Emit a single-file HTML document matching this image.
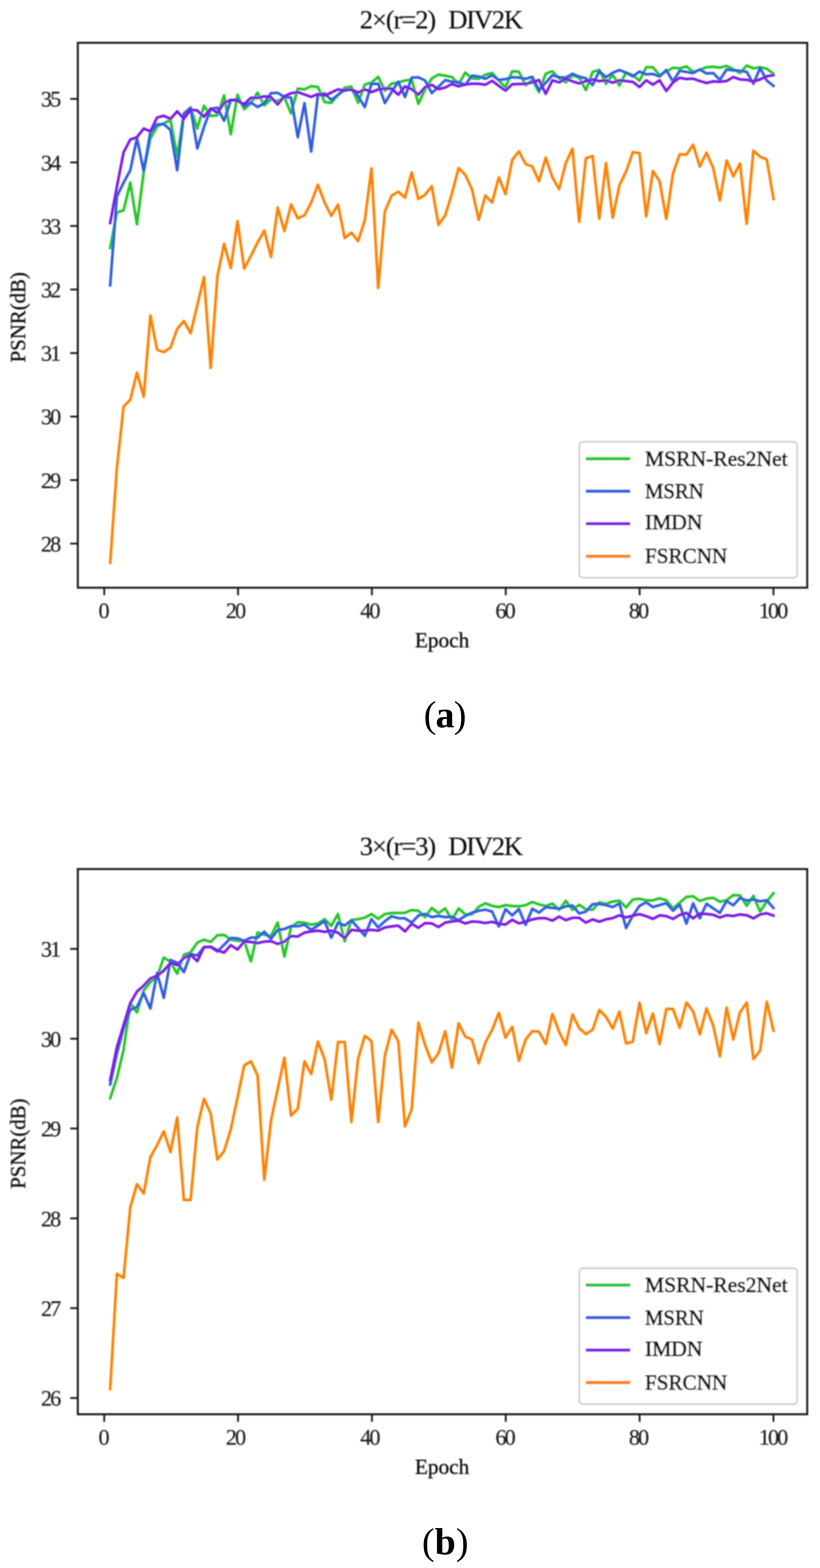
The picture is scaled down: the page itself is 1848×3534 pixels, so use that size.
<!DOCTYPE html>
<html lang="en">
<head>
<meta charset="utf-8">
<title>PSNR curves on DIV2K</title>
<style>
html,body{margin:0;padding:0;background:#fff;}
body{width:1848px;height:3534px;overflow:hidden;}
svg{display:block;}
.t{font-family:"Liberation Serif","DejaVu Serif",serif;fill:#111;stroke:#111;stroke-width:0.7px;}
.tl{font-size:50px;letter-spacing:-4.2px;stroke-width:0.4px;fill:#1c1c1c;stroke:#1c1c1c;}
.tt{stroke-width:0.3px;}
.lt{stroke-width:1.5px;}
.cap{font-family:"Liberation Serif","DejaVu Serif",serif;fill:#000;}
.ln{fill:none;stroke-width:6.0;stroke-linejoin:round;stroke-linecap:square;}
.ll{stroke-width:7.3px;}
.fr{fill:none;stroke:#0a0a0a;stroke-width:4.2;}
.tk{stroke:#0a0a0a;stroke-width:3.9;}
.lg{fill:#fff;fill-opacity:.8;stroke:#cdcdcd;stroke-width:3.8;}
</style>
</head>
<body>
<svg width="1848" height="3534" viewBox="0 0 1848 3534">
<defs><filter id="soft" x="0" y="0" width="1848" height="3534" filterUnits="userSpaceOnUse"><feGaussianBlur stdDeviation="1.7"/></filter></defs>
<rect width="1848" height="3534" fill="#fff"/>
<g filter="url(#soft)">
<g>
<polyline class="ln" stroke="#22c522" points="248.3,559 263.4,478.8 278.5,474.1 293.6,411.6 308.7,505.6 323.8,388.4 338.9,312.3 354,285.1 369.1,278.1 384.2,270.4 399.3,352.6 414.4,255.6 429.5,241.9 444.6,290 459.7,238.3 474.8,261.5 489.9,259.7 505,215.1 520.1,302.4 535.2,213.4 550.3,246.3 565.4,232.6 580.5,208.9 595.6,237.4 610.7,224.1 625.8,227.6 640.9,219.6 656,255.7 671.1,199.6 686.2,201.4 701.3,194.3 716.4,196 731.5,229.9 746.6,231.7 761.7,213.9 776.8,197.8 791.9,195.1 807,231.7 822.1,190.7 837.2,186.2 852.3,173.1 867.4,204.5 882.5,188.5 897.6,185.8 912.7,181.4 927.8,179.6 942.9,233.9 958,201.9 973.1,176.9 988.2,168 1003.3,170.7 1018.4,173.4 1033.5,190.3 1048.6,163.6 1063.7,176.4 1078.8,177.7 1093.9,168.7 1109,164.3 1124.1,181.2 1139.2,197.2 1154.3,160.7 1169.4,161.6 1184.5,191.9 1199.6,180.3 1214.7,207.9 1229.8,166 1244.9,160.7 1260,176.6 1275.1,185.6 1290.2,169.6 1305.3,175.1 1320.4,203.2 1335.5,162.2 1350.6,157.6 1365.7,189 1380.8,168.5 1395.9,192.6 1411,163.2 1426.1,169.4 1441.2,181.9 1456.3,151.6 1471.4,151.6 1486.5,169.4 1501.6,161.4 1516.7,152.8 1531.8,154.1 1546.9,149.6 1562,162.1 1577.1,157.6 1592.2,151.4 1607.3,150.5 1622.4,152.3 1637.5,148.7 1652.6,155.8 1667.7,164.7 1682.8,147.8 1697.9,154.1 1713,151.4 1728.1,154.9 1743.2,166.6"/>
<polyline class="ln" stroke="#2d5be0" points="248.3,643 263.4,442.7 278.5,411.6 293.6,383.7 308.7,311.5 323.8,385.3 338.9,298.3 354,280.4 369.1,279.6 384.2,292.9 399.3,383.7 414.4,256.4 429.5,243.6 444.6,334.5 459.7,286.4 474.8,245.4 489.9,242.8 505,272.2 520.1,225.8 535.2,224.1 550.3,239.2 565.4,231.2 580.5,241 595.6,233 610.7,209.9 625.8,209.2 640.9,218.5 656,220.1 671.1,309.2 686.2,232.6 701.3,341.6 716.4,214.7 731.5,210.3 746.6,225.4 761.7,213.9 776.8,202.3 791.9,202.3 807,216.5 822.1,241.5 837.2,188.9 852.3,188.7 867.4,232.2 882.5,207.2 897.6,184.1 912.7,218.8 927.8,175.1 942.9,174.3 958,181.4 973.1,209.9 988.2,195.6 1003.3,180.5 1018.4,184.1 1033.5,184.9 1048.6,191.2 1063.7,170.6 1078.8,172.4 1093.9,177.6 1109,169.6 1124.1,180.3 1139.2,178.5 1154.3,174.1 1169.4,174.9 1184.5,177.6 1199.6,173.2 1214.7,203.5 1229.8,186.5 1244.9,169.6 1260,174.1 1275.1,174.9 1290.2,166.3 1305.3,173 1320.4,176.5 1335.5,191.7 1350.6,160.5 1365.7,173.9 1380.8,164.1 1395.9,157.8 1411,164.1 1426.1,172.1 1441.2,161.4 1456.3,167.6 1471.4,166.7 1486.5,172.1 1501.6,157.8 1516.7,183.7 1531.8,159.4 1546.9,162.1 1562,164.7 1577.1,156.7 1592.2,165.6 1607.3,164.7 1622.4,179.9 1637.5,156.7 1652.6,158.5 1667.7,159.4 1682.8,162.1 1697.9,188.8 1713,153.2 1728.1,181.7 1743.2,193.6"/>
<polyline class="ln" stroke="#7d12e4" points="248.3,502.5 263.4,421 278.5,343.3 293.6,314.6 308.7,309.2 323.8,289.8 338.9,296 354,264.9 369.1,261 384.2,268 399.3,250.9 414.4,267.8 429.5,247.2 444.6,249 459.7,263.2 474.8,244.5 489.9,254.3 505,232.1 520.1,224.9 535.2,227.6 550.3,234.7 565.4,220.5 580.5,220.5 595.6,217.3 610.7,218.7 625.8,235.4 640.9,216.7 656,210.3 671.1,207.6 686.2,213 701.3,218.3 716.4,212.1 731.5,215.6 746.6,208.5 761.7,201.4 776.8,204.1 791.9,201.4 807,208.5 822.1,201.4 837.2,207.6 852.3,201.6 867.4,199.2 882.5,200.1 897.6,213.5 912.7,194.7 927.8,201 942.9,213.5 958,196.5 973.1,191.2 988.2,201 1003.3,197.4 1018.4,189.4 1033.5,194.7 1048.6,190.3 1063.7,188.8 1078.8,188.8 1093.9,191 1109,182.1 1124.1,193.3 1139.2,204.3 1154.3,190.1 1169.4,189.2 1184.5,189.2 1199.6,185.6 1214.7,180.3 1229.8,211.5 1244.9,181.2 1260,185.6 1275.1,177.6 1290.2,183.3 1305.3,188.1 1320.4,182.8 1335.5,179.2 1350.6,182.8 1365.7,181 1380.8,186.3 1395.9,181 1411,182.8 1426.1,184.5 1441.2,196.1 1456.3,181 1471.4,190.8 1486.5,181 1501.6,205 1516.7,185.8 1531.8,175.4 1546.9,178.1 1562,177.2 1577.1,182.6 1592.2,187 1607.3,183.5 1622.4,184.3 1637.5,182.6 1652.6,173.7 1667.7,179 1682.8,179.9 1697.9,183.5 1713,179 1728.1,171.9 1743.2,169.2"/>
<polyline class="ln" stroke="#ff8000" points="248.3,1268.6 263.4,1054.6 278.5,916.5 293.6,900.9 308.7,839.7 323.8,894.2 338.9,711.2 354,788.2 369.1,793.8 384.2,783.2 399.3,741.3 414.4,723.5 429.5,751.3 444.6,687.8 459.7,624.3 474.8,829.4 489.9,623.2 505,549.7 520.1,604.3 535.2,498.5 550.3,605.4 565.4,576.9 580.5,546.4 595.6,519.7 610.7,579.4 625.8,467.6 640.9,521 656,460.9 671.1,492.1 686.2,485.4 701.3,456.5 716.4,416.4 731.5,456.5 746.6,486.5 761.7,460.9 776.8,536.6 791.9,524.4 807,543.3 822.1,496.5 837.2,379.6 852.3,649.1 867.4,476.5 882.5,440.9 897.6,432 912.7,445.4 927.8,388.6 942.9,448.7 958,438.7 973.1,419.8 988.2,506.6 1003.3,485.5 1018.4,436.5 1033.5,378.6 1048.6,394.1 1063.7,426.4 1078.8,495.5 1093.9,440.9 1109,456.5 1124.1,399.7 1139.2,437.6 1154.3,360.7 1169.4,341.2 1184.5,369.7 1199.6,375.2 1214.7,408.6 1229.8,355.2 1244.9,399.7 1260,426.5 1275.1,367.4 1290.2,335.1 1305.3,500 1320.4,356.3 1335.5,351.8 1350.6,493.3 1365.7,367.4 1380.8,491 1395.9,417.5 1411,386.4 1426.1,342.9 1441.2,345.2 1456.3,487.7 1471.4,385.3 1486.5,408.7 1501.6,493.3 1516.7,390.8 1531.8,347.4 1546.9,348.5 1562,326.3 1577.1,375.3 1592.2,344.1 1607.3,378.6 1622.4,452.1 1637.5,361.9 1652.6,397.5 1667.7,368.6 1682.8,504.4 1697.9,339.6 1713,353 1728.1,359.7 1743.2,448.6"/>
<rect class="fr" x="175.3" y="96.5" width="1643.9" height="1228.1"/>
<line class="tk" x1="234.9" y1="1324.6" x2="234.9" y2="1341.6"/>
<text class="t tl" text-anchor="middle" x="232.4" y="1393.2">0</text>
<line class="tk" x1="536.5" y1="1324.6" x2="536.5" y2="1341.6"/>
<text class="t tl" text-anchor="middle" x="529.8" y="1393.2">20</text>
<line class="tk" x1="838.2" y1="1324.6" x2="838.2" y2="1341.6"/>
<text class="t tl" text-anchor="middle" x="832.6" y="1393.2">40</text>
<line class="tk" x1="1139.8" y1="1324.6" x2="1139.8" y2="1341.6"/>
<text class="t tl" text-anchor="middle" x="1137.2" y="1393.2">60</text>
<line class="tk" x1="1441.5" y1="1324.6" x2="1441.5" y2="1341.6"/>
<text class="t tl" text-anchor="middle" x="1438" y="1393.2">80</text>
<line class="tk" x1="1743.1" y1="1324.6" x2="1743.1" y2="1341.6"/>
<text class="t tl" text-anchor="middle" x="1741.2" y="1393.2">100</text>
<line class="tk" x1="158.3" y1="222.9" x2="175.3" y2="222.9"/>
<text class="t tl" text-anchor="end" x="133.8" y="240.4">35</text>
<line class="tk" x1="158.3" y1="366.1" x2="175.3" y2="366.1"/>
<text class="t tl" text-anchor="end" x="133.8" y="383.6">34</text>
<line class="tk" x1="158.3" y1="509.3" x2="175.3" y2="509.3"/>
<text class="t tl" text-anchor="end" x="133.8" y="526.8">33</text>
<line class="tk" x1="158.3" y1="652.5" x2="175.3" y2="652.5"/>
<text class="t tl" text-anchor="end" x="133.8" y="670">32</text>
<line class="tk" x1="158.3" y1="795.7" x2="175.3" y2="795.7"/>
<text class="t tl" text-anchor="end" x="133.8" y="813.2">31</text>
<line class="tk" x1="158.3" y1="938.9" x2="175.3" y2="938.9"/>
<text class="t tl" text-anchor="end" x="133.8" y="956.4">30</text>
<line class="tk" x1="158.3" y1="1082" x2="175.3" y2="1082"/>
<text class="t tl" text-anchor="end" x="133.8" y="1099.5">29</text>
<line class="tk" x1="158.3" y1="1225.2" x2="175.3" y2="1225.2"/>
<text class="t tl" text-anchor="end" x="133.8" y="1242.7">28</text>
<text class="t tt" font-size="60" y="64.3" xml:space="preserve"><tspan x="810.8" textLength="172.3" lengthAdjust="spacing">2×(r=2)</tspan><tspan>  </tspan><tspan x="1010.2" textLength="168.6" lengthAdjust="spacing">DIV2K</tspan></text>
<text class="t" font-size="48" text-anchor="middle" x="996.3" y="1459.4">Epoch</text>
<text class="t" font-size="48" transform="translate(56.8 715) rotate(-90)" x="-101.8" y="0" textLength="203.5" lengthAdjust="spacingAndGlyphs">PSNR(dB)</text>
<rect class="lg" x="1305.6" y="995.9" width="491" height="306.2" rx="8" ry="8"/>
<line class="ln ll" stroke="#22c522" x1="1323.7" y1="1033.8" x2="1416.7" y2="1033.8"/>
<text class="t lt" font-size="48" x="1453.5" y="1049.5" textLength="321.5" lengthAdjust="spacingAndGlyphs">MSRN-Res2Net</text>
<line class="ln ll" stroke="#2d5be0" x1="1323.7" y1="1107.1" x2="1416.7" y2="1107.1"/>
<text class="t lt" font-size="48" x="1453.5" y="1123.1" textLength="132.4" lengthAdjust="spacingAndGlyphs">MSRN</text>
<line class="ln ll" stroke="#7d12e4" x1="1323.7" y1="1180.3" x2="1416.7" y2="1180.3"/>
<text class="t lt" font-size="48" x="1453.5" y="1193" textLength="129.5" lengthAdjust="spacingAndGlyphs">IMDN</text>
<line class="ln ll" stroke="#ff8000" x1="1323.7" y1="1253.6" x2="1416.7" y2="1253.6"/>
<text class="t lt" font-size="48" x="1453.5" y="1269" textLength="185.5" lengthAdjust="spacingAndGlyphs">FSRCNN</text>
</g>
<g>
<polyline class="ln" stroke="#22c522" points="248.3,2475.3 263.4,2429.8 278.5,2366.1 293.6,2260.6 308.7,2281.9 323.8,2232 338.9,2213.3 354,2201.8 369.1,2158.1 384.2,2167.9 399.3,2194.6 414.4,2151.9 429.5,2146.5 444.6,2124.6 459.7,2117.8 474.8,2123 489.9,2107.9 505,2107 520.1,2117.7 535.2,2120.4 550.3,2120.6 565.4,2166.7 580.5,2101.7 595.6,2107 610.7,2109.7 625.8,2079.4 640.9,2156 656,2089.1 671.1,2078.6 686.2,2079.7 701.3,2084.1 716.4,2081.5 731.5,2071.7 746.6,2086.8 761.7,2060.1 776.8,2121.6 791.9,2073.5 807,2071.7 822.1,2068.1 837.2,2060.1 852.3,2070.8 867.4,2060.1 882.5,2057.8 897.6,2057.8 912.7,2057.2 927.8,2051 942.9,2052.8 958,2067 973.1,2046.5 988.2,2058.1 1003.3,2047.4 1018.4,2073.2 1033.5,2047.4 1048.6,2060.8 1063.7,2060.8 1078.8,2043.9 1093.9,2035.8 1109,2041.6 1124.1,2044.5 1139.2,2040.1 1154.3,2041.9 1169.4,2042.8 1184.5,2040.1 1199.6,2033 1214.7,2038.3 1229.8,2041.9 1244.9,2036.5 1260,2050.8 1275.1,2030.3 1290.2,2050.8 1305.3,2039.2 1320.4,2049.4 1335.5,2050.6 1350.6,2033.7 1365.7,2037.2 1380.8,2031.9 1395.9,2030.1 1411,2045.2 1426.1,2027.4 1441.2,2025.6 1456.3,2029.2 1471.4,2029.2 1486.5,2024.7 1501.6,2029.2 1516.7,2047 1531.8,2034.6 1546.9,2021.6 1562,2019.9 1577.1,2030.6 1592.2,2025.3 1607.3,2023.5 1622.4,2032.4 1637.5,2028.9 1652.6,2017.3 1667.7,2018.2 1682.8,2041.3 1697.9,2019.1 1713,2054.7 1728.1,2031.6 1743.2,2013.1"/>
<polyline class="ln" stroke="#2d5be0" points="248.3,2444.1 263.4,2374.6 278.5,2317.6 293.6,2276 308.7,2269.5 323.8,2238.2 338.9,2273 354,2192.8 369.1,2249 384.2,2163.5 399.3,2169.7 414.4,2191.1 429.5,2150.1 444.6,2153.6 459.7,2134.6 474.8,2134.6 489.9,2144.4 505,2129.3 520.1,2114.1 535.2,2115 550.3,2120.4 565.4,2113.2 580.5,2113.2 595.6,2099.9 610.7,2115.9 625.8,2096.3 640.9,2093.7 656,2087.4 671.1,2087.6 686.2,2084.1 701.3,2095.7 716.4,2085.9 731.5,2076.1 746.6,2113.5 761.7,2079.7 776.8,2085.9 791.9,2074.3 807,2091.3 822.1,2109.1 837.2,2071.7 852.3,2090.4 867.4,2076.1 882.5,2065.1 897.6,2069.4 912.7,2069.7 927.8,2079.5 942.9,2063.5 958,2059.9 973.1,2067 988.2,2064.3 1003.3,2067 1018.4,2066.1 1033.5,2074.1 1048.6,2064.3 1063.7,2057.2 1078.8,2052.8 1093.9,2050.1 1109,2054.5 1124.1,2088.2 1139.2,2049 1154.3,2063.2 1169.4,2049 1184.5,2084.6 1199.6,2048.1 1214.7,2057 1229.8,2044.5 1244.9,2046.3 1260,2048.1 1275.1,2042.8 1290.2,2041 1305.3,2058.8 1320.4,2054.6 1335.5,2037.8 1350.6,2037.2 1365.7,2039.9 1380.8,2044.3 1395.9,2036.3 1411,2091.6 1426.1,2063.9 1441.2,2041.7 1456.3,2033.7 1471.4,2044.3 1486.5,2039.9 1501.6,2035.4 1516.7,2052.4 1531.8,2038.8 1546.9,2081.6 1562,2036 1577.1,2069.8 1592.2,2036.9 1607.3,2047.2 1622.4,2057.4 1637.5,2030.6 1652.6,2040.4 1667.7,2023.5 1682.8,2029.7 1697.9,2027.1 1713,2031.5 1728.1,2028.9 1743.2,2046.6"/>
<polyline class="ln" stroke="#7d12e4" points="248.3,2434.3 263.4,2360.3 278.5,2310.4 293.6,2261 308.7,2234.7 323.8,2221.4 338.9,2205.3 354,2199.1 369.1,2187.5 384.2,2170.6 399.3,2175 414.4,2159 429.5,2151.9 444.6,2166.4 459.7,2134.7 474.8,2133.7 489.9,2141.8 505,2147.1 520.1,2130.2 535.2,2140 550.3,2122.2 565.4,2123 580.5,2125.7 595.6,2122.2 610.7,2121.3 625.8,2127.5 640.9,2122.2 656,2109.7 671.1,2110.7 686.2,2102 701.3,2099.3 716.4,2097.5 731.5,2100.2 746.6,2097.5 761.7,2102.1 776.8,2114.4 791.9,2095.7 807,2097.5 822.1,2097.5 837.2,2095.7 852.3,2097.5 867.4,2090.4 882.5,2088 897.6,2086.2 912.7,2099.1 927.8,2082.2 942.9,2091.1 958,2080.4 973.1,2081.3 988.2,2089.3 1003.3,2079.5 1018.4,2076.8 1033.5,2075 1048.6,2081.3 1063.7,2076.8 1078.8,2077.7 1093.9,2080.4 1109,2077.6 1124.1,2082 1139.2,2083.7 1154.3,2073 1169.4,2081.1 1184.5,2077.5 1199.6,2072.2 1214.7,2069.5 1229.8,2069.5 1244.9,2074.8 1260,2065.9 1275.1,2073.9 1290.2,2068.6 1305.3,2068.6 1320.4,2079.6 1335.5,2072.1 1350.6,2077.3 1365.7,2072 1380.8,2069.3 1395.9,2063 1411,2067.5 1426.1,2063.9 1441.2,2060.4 1456.3,2064.8 1471.4,2071.1 1486.5,2063 1501.6,2064.8 1516.7,2071.1 1531.8,2062 1546.9,2057.6 1562,2069.8 1577.1,2059.1 1592.2,2060 1607.3,2061.8 1622.4,2068 1637.5,2062.7 1652.6,2064.5 1667.7,2060.9 1682.8,2062.7 1697.9,2069.8 1713,2060.9 1728.1,2058.3 1743.2,2063.6"/>
<polyline class="ln" stroke="#ff8000" points="248.3,3130.6 263.4,2871.1 278.5,2880.1 293.6,2720.8 308.7,2668.8 323.8,2689.9 338.9,2607.7 354,2581 369.1,2549.8 384.2,2596.6 399.3,2518.6 414.4,2704.6 429.5,2704.6 444.6,2540.9 459.7,2476.3 474.8,2509.7 489.9,2613.3 505,2594.4 520.1,2545.4 535.2,2474.1 550.3,2401.2 565.4,2391.9 580.5,2424.1 595.6,2659.1 610.7,2525.5 625.8,2454.3 640.9,2384.1 656,2514.4 671.1,2498.8 686.2,2391.9 701.3,2420.9 716.4,2347.4 731.5,2387.5 746.6,2478.8 761.7,2348.5 776.8,2348.5 791.9,2528.9 807,2386.3 822.1,2334.6 837.2,2346.3 852.3,2529 867.4,2378.7 882.5,2320.8 897.6,2346.4 912.7,2539 927.8,2500.1 942.9,2305.2 958,2355.3 973.1,2394.3 988.2,2374.2 1003.3,2324.1 1018.4,2406.5 1033.5,2306.3 1048.6,2336.4 1063.7,2343 1078.8,2396.5 1093.9,2349.7 1109,2321.3 1124.1,2282.9 1139.2,2338.6 1154.3,2314.1 1169.4,2391 1184.5,2343.1 1199.6,2324.2 1214.7,2325.3 1229.8,2353.1 1244.9,2285.2 1260,2325.3 1275.1,2355.3 1290.2,2286.3 1305.3,2317.5 1320.4,2330.8 1335.5,2320.8 1350.6,2276.3 1365.7,2291.9 1380.8,2318.1 1395.9,2280.2 1411,2352 1426.1,2347.6 1441.2,2259.6 1456.3,2328.7 1471.4,2284.1 1486.5,2353.2 1501.6,2274.1 1516.7,2274.1 1531.8,2316.4 1546.9,2259.6 1562,2279.7 1577.1,2331.2 1592.2,2272.9 1607.3,2311.4 1622.4,2381.2 1637.5,2271 1652.6,2342.6 1667.7,2281.8 1682.8,2259.6 1697.9,2386.8 1713,2368.1 1728.1,2257.6 1743.2,2323.1"/>
<rect class="fr" x="175.3" y="1958.7" width="1643.9" height="1228.8"/>
<line class="tk" x1="234.9" y1="3187.5" x2="234.9" y2="3204.5"/>
<text class="t tl" text-anchor="middle" x="232.4" y="3255.8">0</text>
<line class="tk" x1="536.5" y1="3187.5" x2="536.5" y2="3204.5"/>
<text class="t tl" text-anchor="middle" x="529.8" y="3255.8">20</text>
<line class="tk" x1="838.2" y1="3187.5" x2="838.2" y2="3204.5"/>
<text class="t tl" text-anchor="middle" x="832.6" y="3255.8">40</text>
<line class="tk" x1="1139.8" y1="3187.5" x2="1139.8" y2="3204.5"/>
<text class="t tl" text-anchor="middle" x="1137.2" y="3255.8">60</text>
<line class="tk" x1="1441.5" y1="3187.5" x2="1441.5" y2="3204.5"/>
<text class="t tl" text-anchor="middle" x="1438" y="3255.8">80</text>
<line class="tk" x1="1743.1" y1="3187.5" x2="1743.1" y2="3204.5"/>
<text class="t tl" text-anchor="middle" x="1741.2" y="3255.8">100</text>
<line class="tk" x1="158.3" y1="2138.6" x2="175.3" y2="2138.6"/>
<text class="t tl" text-anchor="end" x="133.8" y="2156.1">31</text>
<line class="tk" x1="158.3" y1="2341.1" x2="175.3" y2="2341.1"/>
<text class="t tl" text-anchor="end" x="133.8" y="2358.6">30</text>
<line class="tk" x1="158.3" y1="2543.5" x2="175.3" y2="2543.5"/>
<text class="t tl" text-anchor="end" x="133.8" y="2561">29</text>
<line class="tk" x1="158.3" y1="2746" x2="175.3" y2="2746"/>
<text class="t tl" text-anchor="end" x="133.8" y="2763.5">28</text>
<line class="tk" x1="158.3" y1="2948.4" x2="175.3" y2="2948.4"/>
<text class="t tl" text-anchor="end" x="133.8" y="2965.9">27</text>
<line class="tk" x1="158.3" y1="3150.9" x2="175.3" y2="3150.9"/>
<text class="t tl" text-anchor="end" x="133.8" y="3168.4">26</text>
<text class="t tt" font-size="60" y="1926.9" xml:space="preserve"><tspan x="810.8" textLength="172.3" lengthAdjust="spacing">3×(r=3)</tspan><tspan>  </tspan><tspan x="1010.2" textLength="168.6" lengthAdjust="spacing">DIV2K</tspan></text>
<text class="t" font-size="48" text-anchor="middle" x="996.3" y="3322">Epoch</text>
<text class="t" font-size="48" transform="translate(56.8 2577.6) rotate(-90)" x="-101.8" y="0" textLength="203.5" lengthAdjust="spacingAndGlyphs">PSNR(dB)</text>
<rect class="lg" x="1305.6" y="2858.5" width="491" height="306.2" rx="8" ry="8"/>
<line class="ln ll" stroke="#22c522" x1="1323.7" y1="2896.4" x2="1416.7" y2="2896.4"/>
<text class="t lt" font-size="48" x="1453.5" y="2912.1" textLength="321.5" lengthAdjust="spacingAndGlyphs">MSRN-Res2Net</text>
<line class="ln ll" stroke="#2d5be0" x1="1323.7" y1="2969.7" x2="1416.7" y2="2969.7"/>
<text class="t lt" font-size="48" x="1453.5" y="2985.7" textLength="132.4" lengthAdjust="spacingAndGlyphs">MSRN</text>
<line class="ln ll" stroke="#7d12e4" x1="1323.7" y1="3042.9" x2="1416.7" y2="3042.9"/>
<text class="t lt" font-size="48" x="1453.5" y="3055.6" textLength="129.5" lengthAdjust="spacingAndGlyphs">IMDN</text>
<line class="ln ll" stroke="#ff8000" x1="1323.7" y1="3116.2" x2="1416.7" y2="3116.2"/>
<text class="t lt" font-size="48" x="1453.5" y="3131.6" textLength="185.5" lengthAdjust="spacingAndGlyphs">FSRCNN</text>
</g>
</g>
<text class="cap" font-size="85" text-anchor="middle" letter-spacing="-1.5" x="1002.3" y="1639.2">(<tspan font-weight="bold">a</tspan>)</text>
<text class="cap" font-size="85" text-anchor="middle" letter-spacing="0.5" x="1003.6" y="3502.5">(<tspan font-weight="bold">b</tspan>)</text>
</svg>
</body>
</html>
